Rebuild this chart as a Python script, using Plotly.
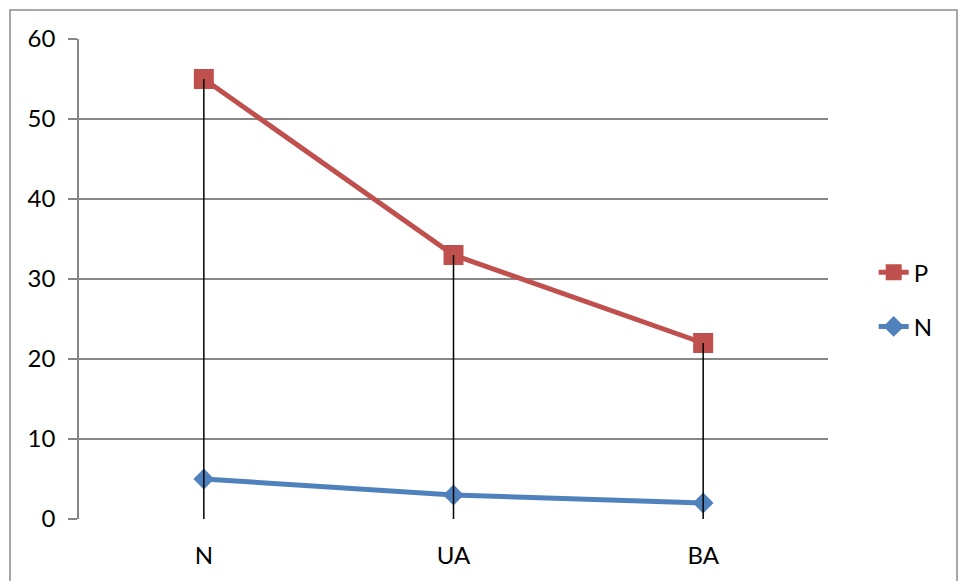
import plotly.graph_objects as go

categories = ["N", "UA", "BA"]
p_values = [55, 33, 22]
n_values = [5, 3, 2]
y_ticks = [0, 10, 20, 30, 40, 50, 60]

RED = "#C0504D"
BLUE = "#4F81BD"
GRID = "#868686"
FONT = "Lato, Calibri, Arial, sans-serif"

fig = go.Figure()

fig.add_trace(go.Scatter(
    x=categories, y=p_values, name="P", mode="lines+markers",
    line=dict(color=RED, width=5),
    marker=dict(symbol="square", size=20, color=RED),
    legendgroup="p",
))
fig.add_trace(go.Scatter(
    x=categories, y=n_values, name="N", mode="lines+markers",
    line=dict(color=BLUE, width=5),
    marker=dict(symbol="diamond", size=16, color=BLUE),
    legendgroup="n",
))

# drop lines from P values to the axis
dx, dy = [], []
for c, v in zip(categories, p_values):
    dx += [c, c, None]
    dy += [v, 0, None]
fig.add_trace(go.Scatter(
    x=dx, y=dy, mode="lines", line=dict(color="black", width=1.5),
    showlegend=False, hoverinfo="skip",
))

W, H = 959, 581
L, R, T, B = 79, 131, 39, 62
pw, ph = W - L - R, H - T - B

fig.add_shape(
    type="rect", xref="paper", yref="paper",
    x0=(10 - L) / pw, x1=(957 - L) / pw,
    y0=-(600 - (H - B)) / ph, y1=1 + (T - 10) / ph,
    line=dict(color="#8C8C8C", width=1.5), fillcolor="rgba(0,0,0,0)",
    layer="below",
)

fig.update_layout(
    width=W, height=H,
    margin=dict(l=L, r=R, t=T, b=B),
    paper_bgcolor="white", plot_bgcolor="white",
    font=dict(family=FONT, size=24, color="black"),
    showlegend=True,
    legend=dict(
        x=1.061, y=0.457, xanchor="left", yanchor="middle",
        font=dict(size=24), tracegroupgap=20, bgcolor="rgba(0,0,0,0)",
    ),
    xaxis=dict(
        type="category", range=[-0.5, 2.5],
        showgrid=False, showline=False, zeroline=False,
        ticks="", ticklabelstandoff=20,
    ),
    yaxis=dict(
        range=[0, 60], tickvals=y_ticks, ticktext=[str(t) for t in y_ticks],
        showgrid=True, gridcolor=GRID, gridwidth=1.5,
        showline=True, linecolor=GRID, linewidth=1.5,
        ticks="outside", ticklen=9, tickcolor=GRID, tickwidth=1.5,
        zeroline=False, ticklabelstandoff=8,
    ),
)

fig.write_html("out.html", config={"displayModeBar": False})

# remove the default page margin so the figure sits at the window origin
with open("out.html", "r", encoding="utf-8") as f:
    html = f.read()
html = html.replace("<head>", "<head><style>html,body{margin:0;padding:0;overflow:hidden}</style>", 1)
with open("out.html", "w", encoding="utf-8") as f:
    f.write(html)
